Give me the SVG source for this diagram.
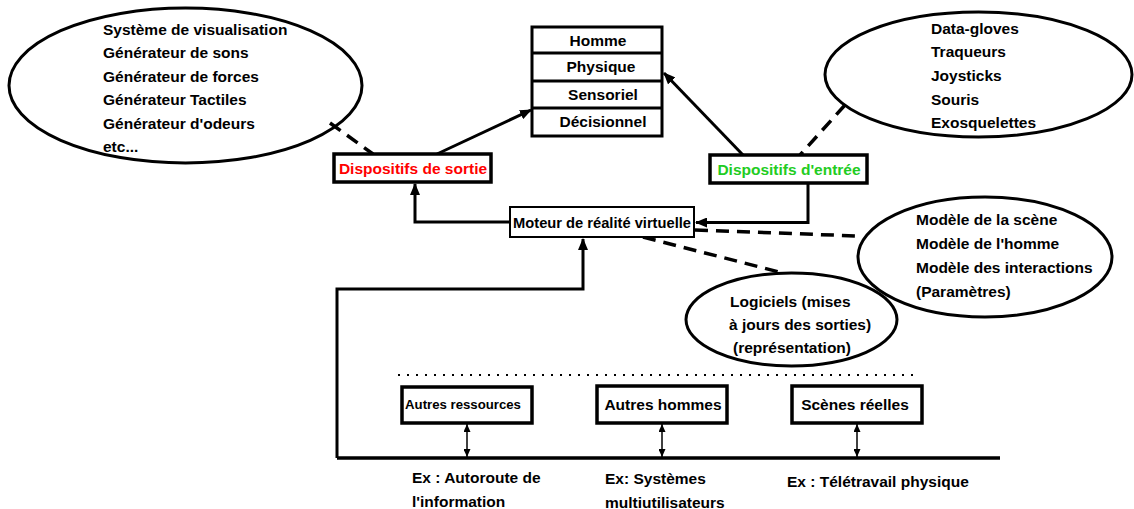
<svg xmlns="http://www.w3.org/2000/svg" width="1134" height="509" viewBox="0 0 1134 509">
<style>
text{font-family:"Liberation Sans",Arial,sans-serif;font-weight:bold;font-size:15.5px;fill:#000}
.c{text-anchor:middle}
.ell{fill:none;stroke:#000;stroke-width:3}
.box{fill:#fff;stroke:#000;stroke-width:3.5}
.thin{fill:#fff;stroke:#000;stroke-width:2}
.conn{fill:none;stroke:#000;stroke-width:3}
.dash{fill:none;stroke:#000;stroke-width:3.5;stroke-dasharray:13 8}
.dbl{fill:none;stroke:#000;stroke-width:1.5}
</style>
<defs>
<marker id="ah" viewBox="0 0 12 10" refX="11" refY="5" markerWidth="12" markerHeight="10" markerUnits="userSpaceOnUse" orient="auto"><path d="M0,0 L12,5 L0,10 z" fill="#000"/></marker>
<marker id="sm" viewBox="0 0 8 7" refX="8" refY="3.5" markerWidth="8" markerHeight="7" markerUnits="userSpaceOnUse" orient="auto-start-reverse"><path d="M0,0 L8,3.5 L0,7 z" fill="#000"/></marker>
</defs>

<g id="connectors">
<path class="conn" d="M510,222 L415,222 L415,184" marker-end="url(#ah)"/>
<path class="conn" d="M808,183 L808,222.5 L696,222.5" marker-end="url(#ah)"/>
<path class="conn" d="M337,458 L337,289 L583,289 L583,239" marker-end="url(#ah)"/>
<path class="conn" d="M437,154 L531,110" marker-end="url(#ah)"/>
<path class="conn" d="M743,155 L664,73" marker-end="url(#ah)"/>
<path class="dash" d="M330,123 L373,154"/>
<path class="dash" d="M845,105 L800,155"/>
<path class="dash" d="M695,230 L858,236"/>
<path class="dash" d="M643,237 L783,273"/>
<path fill="none" stroke="#000" stroke-width="3.5" d="M337,458 L1000,458"/>
<path fill="none" stroke="#000" stroke-width="2" stroke-dasharray="2 7" d="M398,375 L918,375"/>
<path class="dbl" d="M467,424 L467,457" marker-start="url(#sm)" marker-end="url(#sm)"/>
<path class="dbl" d="M662,424 L662,457" marker-start="url(#sm)" marker-end="url(#sm)"/>
<path class="dbl" d="M857,424 L857,457" marker-start="url(#sm)" marker-end="url(#sm)"/>
</g>

<g id="sorties-list">
<ellipse class="ell" cx="185.5" cy="85.5" rx="176.5" ry="77.5"/>
<text x="103" y="34.5">Système de visualisation</text>
<text x="103" y="58">Générateur de sons</text>
<text x="103" y="81.5">Générateur de forces</text>
<text x="103" y="105">Générateur Tactiles</text>
<text x="103" y="128.5">Générateur d'odeurs</text>
<text x="103" y="152">etc...</text>
</g>

<g id="homme">
<rect x="532" y="27" width="130" height="109" fill="#fff" stroke="#000" stroke-width="3"/>
<path d="M532,53 H662 M532,81 H662 M532,108 H662" stroke="#000" stroke-width="3"/>
<text class="c" x="598" y="45.5">Homme</text>
<text class="c" x="601" y="72">Physique</text>
<text class="c" x="603" y="99.5">Sensoriel</text>
<text class="c" x="603" y="127">Décisionnel</text>
</g>

<g id="entrees-list">
<ellipse class="ell" cx="978.5" cy="74.5" rx="153.5" ry="62.5"/>
<text x="931" y="33.5">Data-gloves</text>
<text x="931" y="57">Traqueurs</text>
<text x="931" y="80.5">Joysticks</text>
<text x="931" y="104.5">Souris</text>
<text x="931" y="128">Exosquelettes</text>
</g>

<g id="dispositifs-sortie">
<rect class="box" x="334" y="154" width="157" height="28"/>
<text class="c" x="413" y="174" style="fill:#ff0000">Dispositifs de sortie</text>
</g>

<g id="dispositifs-entree">
<rect class="box" x="710" y="155" width="157" height="28"/>
<text class="c" x="789" y="175" style="fill:#22cc22">Dispositifs d'entrée</text>
</g>

<g id="moteur">
<rect class="thin" x="510" y="207" width="184" height="30"/>
<text class="c" x="602" y="228" style="font-size:14.7px">Moteur de réalité virtuelle</text>
</g>

<g id="modeles">
<ellipse class="ell" cx="985" cy="257" rx="127" ry="60"/>
<text x="916" y="225">Modèle de la scène</text>
<text x="916" y="249">Modèle de l'homme</text>
<text x="916" y="272.5">Modèle des interactions</text>
<text x="916" y="296.5">(Paramètres)</text>
</g>

<g id="logiciels">
<ellipse class="ell" cx="791.5" cy="319.5" rx="105.5" ry="46.5"/>
<text x="730" y="307">Logiciels (mises</text>
<text x="729" y="330">à jours des sorties)</text>
<text x="733" y="353">(représentation)</text>
</g>

<g id="autres-ressources">
<rect class="box" x="402" y="387" width="130" height="36"/>
<text class="c" x="463" y="409" style="font-size:13.2px">Autres ressources</text>
<text x="412" y="483">Ex : Autoroute de</text>
<text x="412" y="507">l'information</text>
</g>

<g id="autres-hommes">
<rect class="box" x="597" y="386" width="130" height="37"/>
<text class="c" x="663" y="410">Autres hommes</text>
<text x="605" y="484">Ex: Systèmes</text>
<text x="605" y="508">multiutilisateurs</text>
</g>

<g id="scenes-reelles">
<rect class="box" x="792" y="386" width="130" height="37"/>
<text class="c" x="855" y="410">Scènes réelles</text>
<text x="787" y="487">Ex : Télétravail physique</text>
</g>
</svg>
